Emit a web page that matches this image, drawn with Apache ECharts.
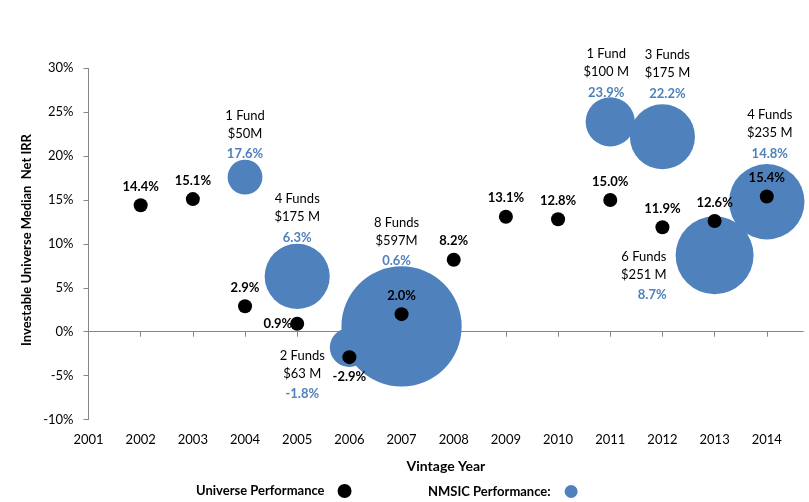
<!DOCTYPE html>
<html>
<head>
<meta charset="utf-8">
<script src="https://cdn.jsdelivr.net/npm/echarts@6/dist/echarts.min.js"></script>
<style>
  html, body { margin: 0; padding: 0; background: #fff; }
  #chart { width: 809px; height: 502px; }
</style>
</head>
<body>
<div id="chart"></div>
<script>
// Vintage years on the axis
const axisYears = [2001, 2002, 2003, 2004, 2005, 2006, 2007, 2008, 2009, 2010, 2011, 2012, 2013, 2014];

// Investable universe median net IRR by vintage year (%)
const universeYears = [2002, 2003, 2004, 2005, 2006, 2007, 2008, 2009, 2010, 2011, 2012, 2013, 2014];
const universeIrr = [14.4, 15.1, 2.9, 0.9, -2.9, 2.0, 8.2, 13.1, 12.8, 15.0, 11.9, 12.6, 15.4];

// NMSIC commitments by vintage year
const nmsicYears = [2004, 2005, 2006, 2007, 2011, 2012, 2013, 2014];
const nmsicIrr = [17.6, 6.3, -1.8, 0.6, 23.9, 22.2, 8.7, 14.8];
const nmsicFundCount = ['1 Fund', '4 Funds', '2 Funds', '8 Funds', '1 Fund', '3 Funds', '6 Funds', '4 Funds'];
const nmsicCommitText = ['$50M', '$175 M', '$63 M', '$597M', '$100 M', '$175 M', '$251 M', '$235 M'];
const nmsicCommitM = [50, 175, 63, 597, 100, 175, 251, 235];

const FONT = 'Lato, "Open Sans", sans-serif';
const BLUE = '#4F81BD';
const AXIS_GRAY = '#868686';

// label placement for each universe point, keyed by year
const universeLabelPlace = {
  2005: { position: 'left', distance: -2 },
  2006: { position: 'bottom', distance: 6 }
};

// label placement for each NMSIC bubble, keyed by year
const nmsicLabelPlace = {
  2004: { position: 'top', distance: 4, offset: [0, 1] },
  2005: { position: 'top', distance: 4 },
  2006: { position: 'left', distance: 5, offset: [0, 24], align: 'right' },
  2007: { position: 'top', distance: 3, offset: [-5, 0] },
  2011: { position: 'top', distance: 2, offset: [-4, 0] },
  2012: { position: 'top', distance: 8, offset: [5, 0] },
  2013: { position: 'left', distance: 9, offset: [0, 17], align: 'right', pctRight: true },
  2014: { position: 'top', distance: 8, offset: [3, 0] }
};

const universeData = universeYears.map((y, i) => {
  const place = universeLabelPlace[y] || { position: 'top', distance: 5 };
  return {
    value: [y, universeIrr[i]],
    label: Object.assign({}, place)
  };
});

const nmsicData = nmsicYears.map((y, i) => {
  const place = nmsicLabelPlace[y];
  const pctStyle = place.pctRight ? 'c' : 'b';
  return {
    value: [y, nmsicIrr[i], nmsicCommitM[i]],
    label: {
      position: place.position,
      distance: place.distance,
      offset: place.offset || [0, 0],
      align: place.align || 'center',
      formatter: '{a|' + nmsicFundCount[i] + '}\n{a|' + nmsicCommitText[i] + '}\n{' + pctStyle + '|' + nmsicIrr[i].toFixed(1) + '%}'
    }
  };
});

const chart = echarts.init(document.getElementById('chart'), null, { renderer: 'canvas' });

chart.setOption({
  backgroundColor: '#ffffff',
  animation: false,
  textStyle: { fontFamily: FONT },
  grid: { left: 88.5, top: 68.3, right: 5.7, bottom: 82.5, containLabel: false },
  graphic: [
    {
      // y-axis title
      type: 'text',
      x: 27, y: 240,
      rotation: Math.PI / 2,
      silent: true,
      style: {
        text: 'Investable Universe Median  Net IRR',
        fontFamily: FONT, fontSize: 13, fontWeight: 'bold', fill: '#000',
        align: 'center', verticalAlign: 'middle'
      }
    }
  ],
  legend: [
    {
      data: ['Universe Performance'],
      left: 196, top: 484,
      padding: 0,
      align: 'right',
      icon: 'circle',
      itemWidth: 14, itemHeight: 14,
      textStyle: { fontFamily: FONT, fontWeight: 'bold', fontSize: 13, color: '#000', padding: [0, 8, 0, 0] }
    },
    {
      data: ['NMSIC Performance:'],
      left: 428, top: 485,
      padding: 0,
      align: 'right',
      icon: 'circle',
      itemWidth: 13, itemHeight: 13,
      textStyle: { fontFamily: FONT, fontWeight: 'bold', fontSize: 13, color: '#000', padding: [0, 9, 0, 0] }
    }
  ],
  xAxis: [
    {
      // axis line crossing at 0%
      type: 'value',
      min: 2001, max: 2014.7,
      axisLine: { show: true, onZero: true, lineStyle: { color: AXIS_GRAY, width: 1 } },
      axisTick: { show: true, length: 5, customValues: axisYears, lineStyle: { color: AXIS_GRAY } },
      axisLabel: { show: false },
      splitLine: { show: false }
    },
    {
      // year labels along the bottom
      type: 'value',
      position: 'bottom',
      min: 2001, max: 2014.7,
      axisLine: { show: false, onZero: false },
      axisTick: { show: false },
      axisLabel: {
        customValues: axisYears,
        formatter: v => String(v),
        margin: 14,
        fontSize: 13,
        color: '#000',
        fontFamily: FONT
      },
      splitLine: { show: false },
      name: 'Vintage Year',
      nameLocation: 'middle',
      nameGap: 40,
      nameTextStyle: { fontFamily: FONT, fontWeight: 'bold', fontSize: 14, color: '#000' }
    }
  ],
  yAxis: {
    type: 'value',
    min: -10, max: 30, interval: 5,
    axisLine: { show: true, lineStyle: { color: AXIS_GRAY, width: 1 } },
    axisTick: { show: true, length: 5, lineStyle: { color: AXIS_GRAY } },
    axisLabel: { formatter: v => v + '%', margin: 15, fontSize: 13, color: '#000', fontFamily: FONT },
    splitLine: { show: false }
  },
  series: [
    {
      name: 'NMSIC Performance:',
      type: 'scatter',
      xAxisIndex: 0,
      z: 2,
      symbol: 'circle',
      symbolSize: d => 4.92 * Math.sqrt(d[2]),
      itemStyle: { color: BLUE, opacity: 1 },
      label: {
        show: true,
        rich: {
          a: { fontFamily: FONT, fontSize: 13, color: '#000', lineHeight: 18, align: 'center' },
          b: { fontFamily: FONT, fontSize: 13, fontWeight: 'bold', color: BLUE, lineHeight: 14, padding: [9, 0, 0, 0], align: 'center' },
          c: { fontFamily: FONT, fontSize: 13, fontWeight: 'bold', color: BLUE, lineHeight: 14, padding: [9, 0, 0, 0], align: 'right' }
        }
      },
      emphasis: { disabled: true },
      data: nmsicData
    },
    {
      name: 'Universe Performance',
      type: 'scatter',
      xAxisIndex: 0,
      z: 3,
      symbol: 'circle',
      symbolSize: 14,
      itemStyle: { color: '#000', opacity: 1 },
      label: {
        show: true,
        formatter: p => p.value[1].toFixed(1) + '%',
        fontFamily: FONT,
        fontSize: 13,
        fontWeight: 'bold',
        color: '#000'
      },
      emphasis: { disabled: true },
      data: universeData
    }
  ]
});
</script>
</body>
</html>
